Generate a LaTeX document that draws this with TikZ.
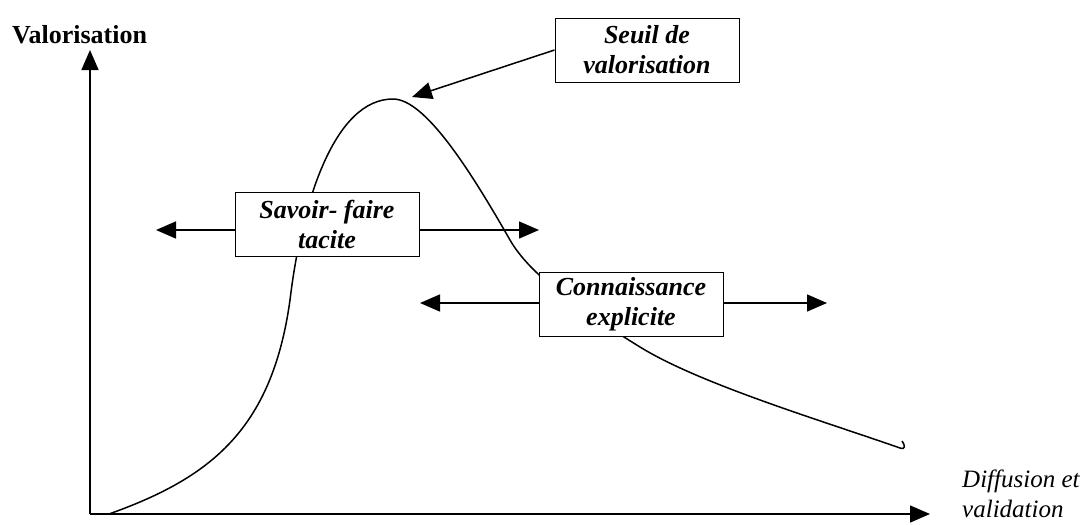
\documentclass[tikz,border=0pt]{standalone}
\usepackage{fontspec}
\setmainfont{Liberation Serif}
\usetikzlibrary{arrows.meta}

\tikzset{
    arr/.style={-{Triangle[length=20pt,width=17pt]}, line width=1.5pt},
    labelbox/.style={draw, line width=1pt, fill=white, align=center,
        minimum width=184pt, minimum height=64pt, inner sep=2pt,
        font=\fontsize{26}{30}\selectfont\bfseries\itshape}
}

\begin{document}
\begin{tikzpicture}[x=1pt, y=-1pt]
    \useasboundingbox (0,0) rectangle (1088,525);

    % axes
        \coordinate (O) at (90,514);
        \coordinate (ytop) at (90,50);
        \coordinate (xend) at (930,514);
        \draw[arr] (O) -- (ytop);
        \draw[arr] (O) -- (xend);
        \node[anchor=base west, inner sep=0pt, font=\fontsize{26}{30}\selectfont\bfseries] (vlab) at (12,43) {Valorisation};
        \node[anchor=west, inner sep=0pt, align=left, font=\fontsize{25}{30}\selectfont\itshape] (dlab) at (962,494) {Diffusion et\\validation};

    % curve
        \draw[line width=1.5pt] (109,514)
            .. controls (210,478) and (272,430) .. (290,300)
            .. controls (302,200) and (335,99) .. (393,99)
            .. controls (425,99) and (470,170) .. (510,240)
            .. controls (530,275) and (580,310) .. (640,347)
            .. controls (700,384) and (820,420) .. (900,448)
            .. controls (906,450) and (905,445) .. (902,441);

    % boxes
        \node[labelbox] (seuil) at (647,50) {Seuil de\\valorisation};
        \node[labelbox] (tacite) at (327,224) {Savoir- faire\\tacite};
        \node[labelbox] (explicite) at (631,304) {Connaissance\\explicite};

    % arrows
        \coordinate (peak) at (412,97);
        \coordinate (tl) at (156,230);
        \coordinate (tr) at (539,230);
        \coordinate (el) at (420,303);
        \coordinate (er) at (827,303);
        \draw[arr] (seuil.west) -- (peak);
        \draw[arr] (tacite.west |- tl) -- (tl);
        \draw[arr] (tacite.east |- tr) -- (tr);
        \draw[arr] (explicite.west |- el) -- (el);
        \draw[arr] (explicite.east |- er) -- (er);

\end{tikzpicture}
\end{document}
